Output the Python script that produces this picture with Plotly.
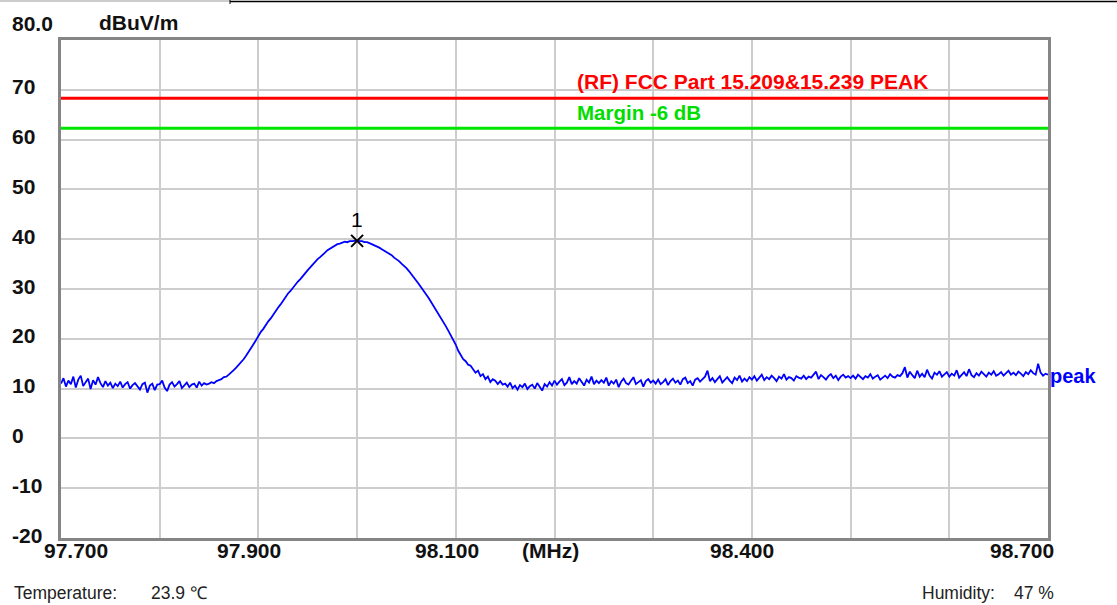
import numpy as np
import plotly.graph_objects as go

# ---------------- data ----------------
FREQ_START = 97.700   # MHz
FREQ_STOP = 98.700    # MHz

# measured level (dBuV/m), 401 sweep points, rows of 0.05 MHz
level_rows = [
    [11.0, 12.1, 10.4, 11.6, 10.9, 12.4, 10.2, 11.8, 12.6, 10.5, 11.3, 12.0, 9.9, 11.7, 10.8, 12.3, 11.1, 10.3, 11.5, 10.6],
    [11.2, 10.1, 11.0, 10.5, 11.4, 10.2, 10.9, 11.3, 10.0, 10.7, 11.1, 10.4, 9.8, 10.9, 11.2, 9.2, 10.6, 11.0, 9.7, 10.8],
    [10.9, 11.6, 10.2, 9.5, 10.8, 11.3, 10.4, 10.9, 11.5, 10.1, 10.7, 11.2, 10.3, 10.8, 11.0, 10.2, 11.4, 10.6, 11.1, 10.8],
    [11.0, 11.3, 11.1, 11.5, 11.7, 11.9, 12.3, 12.4, 12.8, 13.2, 13.7, 14.2, 14.7, 15.3, 15.9, 16.6, 17.3, 18.1, 18.9, 19.7],
    [20.6, 21.4, 22.0, 22.9, 23.5, 24.1, 24.9, 25.7, 26.3, 26.9, 27.7, 28.5, 29.1, 29.6, 30.3, 31.0, 31.5, 32.0, 32.7, 33.2],
    [33.8, 34.4, 34.8, 35.4, 36.0, 36.4, 36.8, 37.3, 37.8, 38.1, 38.4, 38.8, 39.0, 39.1, 39.3, 39.5, 39.4, 39.6, 39.6, 39.7],
    [39.7, 39.6, 39.6, 39.4, 39.4, 39.2, 39.0, 38.7, 38.5, 38.3, 38.0, 37.7, 37.5, 37.2, 36.8, 36.3, 36.0, 35.6, 35.1, 34.7],
    [34.2, 33.6, 33.0, 32.3, 31.7, 31.0, 30.3, 29.5, 28.9, 28.2, 27.4, 26.7, 25.8, 25.0, 24.2, 23.3, 22.5, 21.6, 20.7, 19.8],
    [18.8, 17.6, 16.6, 15.9, 15.5, 14.8, 14.6, 13.8, 13.2, 13.6, 12.5, 12.9, 11.9, 12.4, 11.3, 11.9, 11.6, 10.9, 11.5, 10.8],
    [11.0, 10.4, 11.2, 10.1, 10.6, 9.8, 10.7, 10.3, 11.0, 9.9, 10.5, 10.8, 10.0, 11.1, 10.2, 9.6, 10.9, 10.4, 11.3, 10.6],
    [11.6, 10.8, 11.4, 11.9, 10.7, 11.2, 12.3, 10.9, 11.5, 11.0, 12.1, 11.3, 10.6, 11.8, 11.2, 12.4, 10.9, 11.6, 11.1, 11.7],
    [11.2, 12.2, 10.6, 11.5, 11.0, 11.8, 10.3, 11.4, 12.0, 11.1, 10.8, 11.6, 12.3, 10.9, 11.4, 11.7, 10.4, 11.5, 11.9, 11.2],
    [11.6, 11.0, 11.8, 10.9, 11.3, 11.9, 10.7, 11.5, 12.0, 11.2, 11.6, 10.8, 11.9, 12.2, 11.1, 11.5, 10.6, 11.8, 12.1, 11.4],
    [11.9, 12.4, 13.6, 11.5, 12.1, 11.3, 11.9, 12.5, 11.2, 11.8, 12.3, 11.6, 11.1, 12.2, 11.7, 12.6, 11.4, 12.0, 11.5, 12.3],
    [11.8, 12.5, 11.6, 12.2, 12.8, 11.7, 12.3, 11.9, 12.6, 12.1, 11.5, 12.4, 12.0, 12.9, 11.8, 12.3, 12.1, 11.6, 12.5, 12.2],
    [12.0, 12.6, 11.9, 12.4, 12.2, 12.8, 13.4, 11.9, 12.7, 12.3, 11.8, 12.5, 12.9, 12.1, 12.6, 11.7, 12.4, 12.8, 12.2, 12.5],
    [12.1, 12.6, 12.0, 12.8, 12.4, 11.9, 12.5, 12.2, 12.9, 12.0, 12.4, 12.7, 11.8, 12.3, 12.6, 12.1, 12.9, 12.4, 12.2, 12.7],
    [12.5, 13.1, 14.3, 12.2, 13.4, 12.7, 12.1, 13.6, 12.4, 13.0, 12.3, 13.8, 12.6, 12.0, 13.2, 12.8, 13.5, 12.4, 12.9, 13.3],
    [12.4, 13.0, 12.6, 13.7, 12.2, 12.8, 13.3, 12.5, 13.9, 12.7, 12.3, 13.1, 12.6, 13.4, 12.9, 12.4, 13.2, 12.8, 13.5, 12.6],
    [12.9, 13.3, 12.6, 13.1, 13.6, 12.8, 13.2, 12.7, 13.4, 13.0, 12.5, 13.3, 12.9, 13.7, 13.1, 12.8, 15.0, 13.2, 12.6, 13.0],
]
level_last = [12.8]

limit_name = "(RF) FCC Part 15.209&15.239 PEAK"
limit_value = [68.3, 68.3]
margin_name = "Margin -6 dB"
margin_value = [62.3, 62.3]
line_freqs = [FREQ_START, FREQ_STOP]

marker_freq = [98.000]
marker_level = [39.66]
marker_label = ["1"]

y_ticks = [80, 70, 60, 50, 40, 30, 20, 10, 0, -10, -20]
y_tick_text = ["80.0", "70", "60", "50", "40", "30", "20", "10", "0", "-10", "-20"]
x_grid = [97.7, 97.8, 97.9, 98.0, 98.1, 98.2, 98.3, 98.4, 98.5, 98.6, 98.7]
x_tick_vals = [97.7, 97.9, 98.1, 98.2, 98.4, 98.7]
x_tick_text = ["97.700", "97.900", "98.100", "(MHz)", "98.400", "98.700"]
x_tick_shift = [15, -9, -9, -4, -10, -26]

temperature_text = "23.9 ℃"
humidity_text = "47 %"

# ---------------- figure ----------------
levels = [v for row in level_rows for v in row] + level_last
freqs = np.linspace(FREQ_START, FREQ_STOP, len(levels))

W, H = 1117, 605
L, R, T, B = 61, 69, 40, 67
PW, PH = W - L - R, H - T - B


def px(xp):
    return (xp - L) / PW


def py(yp):
    return (H - B - yp) / PH


FONT = "Liberation Sans, Arial, sans-serif"

fig = go.Figure()
fig.add_trace(go.Scatter(x=line_freqs, y=limit_value, mode="lines",
                         line=dict(color="#ff0000", width=3), hoverinfo="skip"))
fig.add_trace(go.Scatter(x=line_freqs, y=margin_value, mode="lines",
                         line=dict(color="#00e600", width=3), hoverinfo="skip"))
fig.add_trace(go.Scatter(x=freqs, y=levels, mode="lines",
                         line=dict(color="#0000ff", width=1.8)))
fig.add_trace(go.Scatter(x=marker_freq, y=marker_level, mode="markers",
                         marker=dict(symbol="x-thin", size=12, color="black",
                                     line=dict(color="black", width=2))))

ann = []
# y tick labels
for v, t in zip(y_ticks, y_tick_text):
    ann.append(dict(x=px(10), xref="paper", y=v, yref="y", text=t, showarrow=False,
                    xanchor="left", yanchor="middle", yshift=17 if v == 80 else 3,
                    font=dict(family=FONT, size=21, color="#111111", weight="bold")))
ann.append(dict(x=px(97), xref="paper", y=80, yref="y", text="dBuV/m", showarrow=False,
                xanchor="left", yanchor="middle", yshift=18,
                font=dict(family=FONT, size=21, color="#111111", weight="bold")))
# x tick labels
for v, t, s in zip(x_tick_vals, x_tick_text, x_tick_shift):
    ann.append(dict(x=v, xref="x", y=0, yref="paper", text=t, showarrow=False,
                    xanchor="center", yanchor="top", xshift=s, yshift=1,
                    font=dict(family=FONT, size=21, color="#111111", weight="bold")))
# limit labels
ann.append(dict(x=98.2208, y=71.6, text=limit_name, showarrow=False, xanchor="left",
                yanchor="middle", font=dict(family=FONT, size=21, color="#ff0000", weight="bold")))
ann.append(dict(x=98.2208, y=65.4, text=margin_name, showarrow=False, xanchor="left",
                yanchor="middle", font=dict(family=FONT, size=20.5, color="#00dd00", weight="bold")))
# trace label
ann.append(dict(x=FREQ_STOP, y=12.6, text="peak", showarrow=False, xanchor="left",
                yanchor="middle", xshift=0,
                font=dict(family=FONT, size=20, color="#0000ff", weight="bold")))
# marker label
ann.append(dict(x=marker_freq[0], y=marker_level[0], text=marker_label[0], showarrow=False,
                xanchor="center", yanchor="middle", yshift=21,
                font=dict(family=FONT, size=21, color="#000000")))
# footer
for xp, t in [(12, "Temperature:"), (149, temperature_text), (920, "Humidity:"), (1012, humidity_text)]:
    ann.append(dict(x=px(xp), xref="paper", y=py(593), yref="paper", text=t, showarrow=False,
                    xanchor="left", yanchor="middle",
                    font=dict(family=FONT, size=17.5, color="#222222")))

shapes = [
    dict(type="line", xref="paper", yref="paper", x0=px(0), x1=px(230), y0=py(1), y1=py(1),
         line=dict(color="#9a9a9a", width=1)),
    dict(type="line", xref="paper", yref="paper", x0=px(230), x1=px(W), y0=py(1.5), y1=py(1.5),
         line=dict(color="#000000", width=1.5)),
    dict(type="line", xref="paper", yref="paper", x0=px(230), x1=px(230), y0=py(0), y1=py(4),
         line=dict(color="#000000", width=1)),
]

fig.update_layout(
    width=W, height=H, autosize=False,
    margin=dict(l=L, r=R, t=T, b=B, pad=0),
    paper_bgcolor="white", plot_bgcolor="white",
    showlegend=False,
    annotations=ann, shapes=shapes,
    xaxis=dict(range=[FREQ_START, FREQ_STOP], tickmode="array", tickvals=x_grid,
               showticklabels=False, ticks="", showgrid=True, gridcolor="#cdcdcd", gridwidth=2,
               zeroline=False, showline=True, linecolor="#858585", linewidth=3, mirror=True),
    yaxis=dict(range=[-20, 80], tickmode="array", tickvals=y_ticks,
               showticklabels=False, ticks="", showgrid=True, gridcolor="#cdcdcd", gridwidth=2,
               zeroline=False, showline=True, linecolor="#858585", linewidth=3, mirror=True),
)

fig.write_html("out.html", config={"displayModeBar": False},
               post_script="document.body.style.margin='0';document.body.style.overflow='hidden';")
